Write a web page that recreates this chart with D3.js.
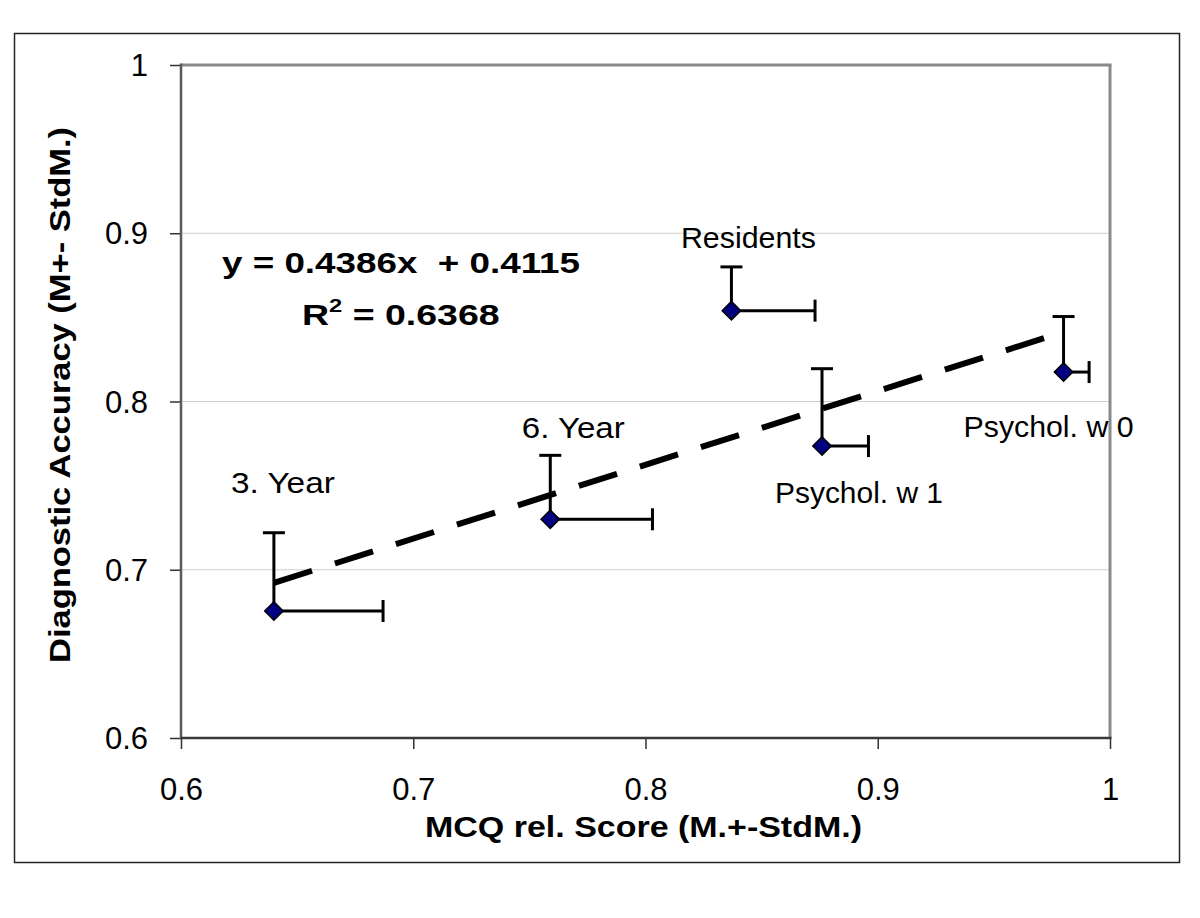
<!DOCTYPE html>
<html>
<head>
<meta charset="utf-8">
<script src="https://cdn.jsdelivr.net/npm/d3@7"></script>
<style>
  html, body { margin: 0; padding: 0; background: #fff; }
  svg { display: block; font-family: "Liberation Sans", Arial, sans-serif; }
</style>
</head>
<body>
<svg id="chart" width="1200" height="918"></svg>
<script>
// ---- data ----
const categories = ["3. Year", "6. Year", "Residents", "Psychol. w 1", "Psychol. w 0"];
const mcqMean = [0.640, 0.759, 0.837, 0.876, 0.980];
const mcqSem  = [0.047, 0.044, 0.036, 0.020, 0.011];
const accMean = [0.6755, 0.730, 0.854, 0.7735, 0.8175];
const accSem  = [0.0465, 0.038, 0.026, 0.046, 0.033];
const xTickValues = [0.6, 0.7, 0.8, 0.9, 1.0];
const xTickLabels = ["0.6", "0.7", "0.8", "0.9", "1"];
const yTickValues = [0.6, 0.7, 0.8, 0.9, 1.0];
const yTickLabels = ["0.6", "0.7", "0.8", "0.9", "1"];
const trendSlope = 0.4386;
const trendIntercept = 0.4115;
const equationText = "y = 0.4386x  + 0.4115";
const r2Value = "0.6368";
const xTitle = "MCQ rel. Score (M.+-StdM.)";
const yTitle = "Diagnostic Accuracy (M+- StdM.)";

// ---- layout (label offsets relative to their point, and label widths, px) ----
const labelOffsets = [[9, -118], [23, -81], [17, -63], [37, 57], [-15, 65]];
const labelWidths = [104, 103, 135, 168, 170];

const svg = d3.select("#chart");
const L = 181, R = 1110, T = 65, B = 738;

const x = d3.scaleLinear().domain([0.6, 1.0]).range([L, R]);
const y = d3.scaleLinear().domain([0.6, 1.0]).range([B, T]);

// outer frame
svg.append("rect").attr("x", 14.5).attr("y", 33.5).attr("width", 1165).attr("height", 829)
  .attr("fill", "#fff").attr("stroke", "#222").attr("stroke-width", 1.5);

// gridlines
svg.append("g").selectAll("line").data(yTickValues.filter(v => v > 0.6 && v < 1.0)).join("line")
  .attr("x1", L).attr("x2", R).attr("y1", d => y(d)).attr("y2", d => y(d))
  .attr("stroke", "#cfcfcf").attr("stroke-width", 1);

// axes
const xAxis = d3.axisBottom(x).tickValues(xTickValues)
  .tickFormat((d, i) => xTickLabels[i]).tickSize(11).tickSizeOuter(0);
const gx = svg.append("g").attr("transform", `translate(0,${B})`).call(xAxis);
gx.select(".domain").remove();
gx.selectAll(".tick line").attr("stroke", "#333").attr("stroke-width", 1.5);
gx.selectAll(".tick text").attr("y", 40).attr("dy", "0.71em")
  .attr("font-size", 31).attr("fill", "#000").attr("font-family", "Liberation Sans, Arial, sans-serif");

const yAxis = d3.axisLeft(y).tickValues(yTickValues)
  .tickFormat((d, i) => yTickLabels[i]).tickSize(11).tickSizeOuter(0);
const gy = svg.append("g").attr("transform", `translate(${L},0)`).call(yAxis);
gy.select(".domain").remove();
gy.selectAll(".tick line").attr("stroke", "#333").attr("stroke-width", 1.5);
gy.selectAll(".tick text").attr("x", -33).attr("dy", "0.34em")
  .attr("font-size", 31).attr("fill", "#000").attr("font-family", "Liberation Sans, Arial, sans-serif");

// plot border: top/right gray, left/bottom dark
svg.append("line").attr("x1", L).attr("x2", R + 1.5).attr("y1", T).attr("y2", T)
  .attr("stroke", "#8a8a8a").attr("stroke-width", 3);
svg.append("line").attr("x1", R).attr("x2", R).attr("y1", T).attr("y2", B)
  .attr("stroke", "#8a8a8a").attr("stroke-width", 3);
svg.append("line").attr("x1", L).attr("x2", L).attr("y1", T - 1.5).attr("y2", B)
  .attr("stroke", "#5a5a5a").attr("stroke-width", 2.5);
svg.append("line").attr("x1", L).attr("x2", R + 1.5).attr("y1", B).attr("y2", B)
  .attr("stroke", "#3a3a3a").attr("stroke-width", 2.5);

// trend line
const xMin = d3.min(mcqMean), xMax = d3.max(mcqMean);
svg.append("line")
  .attr("x1", x(xMin)).attr("y1", y(trendSlope * xMin + trendIntercept))
  .attr("x2", x(xMax)).attr("y2", y(trendSlope * xMax + trendIntercept))
  .attr("stroke", "#000").attr("stroke-width", 6).attr("stroke-dasharray", "40,24");

// points data
const pts = categories.map((c, i) => ({c, mx: mcqMean[i], ms: mcqSem[i], ay: accMean[i], as: accSem[i], off: labelOffsets[i], w: labelWidths[i]}));

// error bars
const eb = svg.append("g").attr("stroke", "#000").attr("stroke-width", 3);
pts.forEach(p => {
  const px = x(p.mx), py = y(p.ay);
  const yt = y(p.ay + p.as), xr = x(p.mx + p.ms);
  eb.append("line").attr("x1", px).attr("x2", px).attr("y1", py).attr("y2", yt);
  eb.append("line").attr("x1", px - 11).attr("x2", px + 11).attr("y1", yt).attr("y2", yt);
  eb.append("line").attr("x1", px).attr("x2", xr).attr("y1", py).attr("y2", py);
  eb.append("line").attr("x1", xr).attr("x2", xr).attr("y1", py - 11).attr("y2", py + 11);
});

// markers
svg.append("g").selectAll("path").data(pts).join("path")
  .attr("d", d3.symbol(d3.symbolSquare, 170)())
  .attr("transform", d => `translate(${x(d.mx)},${y(d.ay)}) rotate(45)`)
  .attr("fill", "#000080").attr("stroke", "#000").attr("stroke-width", 1.5);

// data labels
svg.append("g").selectAll("text").data(pts).join("text")
  .attr("x", d => x(d.mx) + d.off[0]).attr("y", d => y(d.ay) + d.off[1])
  .attr("text-anchor", "middle").attr("font-size", 30).attr("fill", "#000")
  .attr("textLength", d => d.w).attr("lengthAdjust", "spacingAndGlyphs")
  .text(d => d.c);

// equation
svg.append("text").attr("x", 401).attr("y", 273).attr("text-anchor", "middle")
  .attr("font-size", 30).attr("font-weight", "bold").attr("xml:space", "preserve")
  .style("white-space", "pre")
  .attr("textLength", 358).attr("lengthAdjust", "spacingAndGlyphs")
  .text(equationText);
const r2 = svg.append("text").attr("transform", "translate(302,325) scale(1.25,1)")
  .attr("font-size", 30).attr("font-weight", "bold");
r2.append("tspan").text("R");
r2.append("tspan").attr("font-size", 19).attr("dy", -13).text("2");
r2.append("tspan").attr("dy", 13).text(" = " + r2Value);

// axis titles
svg.append("text").attr("x", (425 + 862) / 2).attr("y", 837).attr("text-anchor", "middle")
  .attr("font-size", 29).attr("font-weight", "bold")
  .attr("textLength", 437).attr("lengthAdjust", "spacingAndGlyphs")
  .text(xTitle);
svg.append("text").attr("transform", `translate(70,${(127 + 663) / 2}) rotate(-90)`)
  .attr("text-anchor", "middle")
  .attr("font-size", 29).attr("font-weight", "bold")
  .attr("textLength", 536).attr("lengthAdjust", "spacingAndGlyphs")
  .text(yTitle);
</script>
</body>
</html>
